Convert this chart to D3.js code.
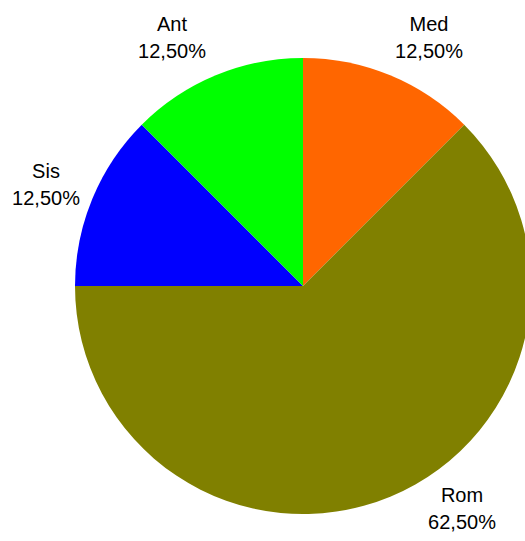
<!DOCTYPE html>
<html>
<head>
<meta charset="utf-8">
<script src="https://cdn.jsdelivr.net/npm/d3@7"></script>
<style>
html,body{margin:0;padding:0;background:#fff;}
svg{display:block;}
text{font-family:"Liberation Sans",Arial,sans-serif;font-size:20px;fill:#000;}
</style>
</head>
<body>
<svg id="chart" width="525" height="541"></svg>
<script>
const categories = ["Med", "Rom", "Sis", "Ant"];
const values = [12.5, 62.5, 12.5, 12.5];
const colors = ["#FF6600", "#808000", "#0000FF", "#00FF00"];

const svg = d3.select("#chart");
const cx = 303, cy = 286, R = 228;
const g = svg.append("g").attr("transform", `translate(${cx},${cy})`);

const pie = d3.pie().sort(null).value(d => d.v);
const data = pie(categories.map((c, i) => ({c, v: values[i], col: colors[i]})));
const arc = d3.arc().innerRadius(0).outerRadius(R);

g.selectAll("path").data(data).enter().append("path")
  .attr("d", arc)
  .attr("fill", d => d.data.col);

// label placement (x center, first baseline) relative to pie center
const labelOffsets = {
  Med: [126, -255],
  Rom: [159, 216],
  Sis: [-257, -108],
  Ant: [-131, -255]
};
const fmt = v => v.toFixed(2).replace(".", ",") + "%";
const lab = svg.append("g");
data.forEach(d => {
  const o = labelOffsets[d.data.c];
  const t = lab.append("text").attr("text-anchor", "middle")
    .attr("x", cx + o[0]).attr("y", cy + o[1]);
  t.append("tspan").attr("x", cx + o[0]).text(d.data.c);
  t.append("tspan").attr("x", cx + o[0]).attr("dy", 27).text(fmt(d.data.v));
});
</script>
</body>
</html>
